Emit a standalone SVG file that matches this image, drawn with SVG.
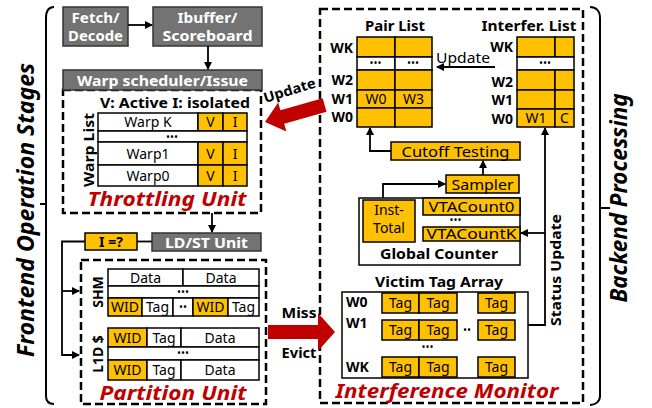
<svg xmlns="http://www.w3.org/2000/svg" width="652" height="408" viewBox="0 0 652 408">
  <style>
    text { font-family: "Noto Sans", "Open Sans", sans-serif; fill: #000; }
    .gray { fill: #737373; stroke: #333; stroke-width: 1.5; }
    .yel { fill: #FFC000; stroke: #000; stroke-width: 1.5; }
    .wht { fill: #fff; stroke: #000; stroke-width: 1.5; }
    .dash { fill: none; stroke: #000; stroke-width: 2.5; stroke-dasharray: 8 4; }
    .line { fill: none; stroke: #000; stroke-width: 1.8; }
    .brace { fill: none; stroke: #000; stroke-width: 2; }
    .wt { fill: #fff; font-weight: bold; font-size: 14px; text-anchor: middle; }
    .c { font-size: 14px; text-anchor: middle; }
    .b { font-weight: bold; font-size: 14px; }
    .bc { font-weight: bold; font-size: 14px; text-anchor: middle; }
    .dots { font-size: 8px; font-weight: bold; text-anchor: middle; letter-spacing: 1px; }
    .red { fill: #C00000; font-weight: bold; font-style: italic; font-size: 20px; text-anchor: middle; }
    .side { font-weight: bold; font-style: italic; font-size: 23px; text-anchor: middle; }
    .rarrow { fill: #C00000; }
  </style>
  <defs>
    <marker id="ah" markerWidth="8" markerHeight="8" refX="7" refY="4" orient="auto" markerUnits="userSpaceOnUse">
      <path d="M0,0 L8,4 L0,8 Z" fill="#000"/>
    </marker>
  </defs>

  <!-- side braces and stage labels -->
  <g id="frontend-brace">
    <path class="brace" d="M54,7 C48,7 46,11 46,18 V396 C46,401 48,404 54,404"/>
    <path class="brace" d="M46,204 H40"/>
    <text class="side" transform="translate(34,210) rotate(-90)" textLength="294" lengthAdjust="spacingAndGlyphs">Frontend Operation Stages</text>
  </g>
  <g id="backend-brace">
    <path class="brace" d="M590,7 C596,7 600,11 600,18 V396 C600,401 596,405 590,405"/>
    <path class="brace" d="M600,208 H610"/>
    <text class="side" transform="translate(627,198) rotate(-90)" textLength="209" lengthAdjust="spacingAndGlyphs">Backend Processing</text>
  </g>

  <!-- front-end pipeline -->
  <g id="fetch-decode">
    <rect class="gray" x="63" y="7" width="65" height="39"/>
    <text class="wt" x="95.5" y="23" textLength="48" lengthAdjust="spacingAndGlyphs">Fetch/</text>
    <text class="wt" x="95.5" y="41" textLength="55" lengthAdjust="spacingAndGlyphs">Decode</text>
  </g>
  <g id="ibuffer">
    <rect class="gray" x="153" y="7" width="109" height="39"/>
    <text class="wt" x="207.5" y="23" textLength="60" lengthAdjust="spacingAndGlyphs">Ibuffer/</text>
    <text class="wt" x="207.5" y="41" textLength="90" lengthAdjust="spacingAndGlyphs">Scoreboard</text>
  </g>

  <!-- throttling unit -->
  <g id="throttling-unit">
    <rect class="dash" x="63" y="90" width="198" height="123"/>
    <text class="bc" x="175" y="108" textLength="150" lengthAdjust="spacingAndGlyphs">V: Active I: isolated</text>
    <text class="b" transform="translate(94,150) rotate(-90)" text-anchor="middle" textLength="74" lengthAdjust="spacingAndGlyphs">Warp List</text>
    <rect class="wht" x="98" y="113" width="100" height="18"/>
    <rect class="yel" x="198" y="113" width="25" height="18"/>
    <rect class="yel" x="223" y="113" width="24" height="18"/>
    <rect class="wht" x="98" y="131" width="149" height="11"/>
    <rect class="wht" x="98" y="142" width="100" height="23"/>
    <rect class="yel" x="198" y="142" width="25" height="23"/>
    <rect class="yel" x="223" y="142" width="24" height="23"/>
    <rect class="wht" x="98" y="165" width="100" height="21"/>
    <rect class="yel" x="198" y="165" width="25" height="21"/>
    <rect class="yel" x="223" y="165" width="24" height="21"/>
    <text class="c" x="148" y="127">Warp K</text>
    <text class="c" x="210.5" y="127">V</text>
    <text class="c" x="235" y="127">I</text>
    <text class="dots" x="172.5" y="140">•••</text>
    <text class="c" x="148" y="159">Warp1</text>
    <text class="c" x="210.5" y="159">V</text>
    <text class="c" x="235" y="159">I</text>
    <text class="c" x="148" y="181">Warp0</text>
    <text class="c" x="210.5" y="181">V</text>
    <text class="c" x="235" y="181">I</text>
    <text class="red" x="167" y="206" textLength="159" lengthAdjust="spacingAndGlyphs">Throttling Unit</text>
  </g>
  <g id="warp-scheduler">
    <rect class="gray" x="63" y="70" width="199" height="20"/>
    <text class="wt" x="162.5" y="86" textLength="171" lengthAdjust="spacingAndGlyphs">Warp scheduler/Issue</text>
  </g>

  <!-- memory stage -->
  <g id="isolation-check">
    <rect class="yel" x="85" y="233" width="52" height="17"/>
    <text class="bc" x="111" y="246.5">I =?</text>
  </g>
  <g id="ldst-unit">
    <rect class="gray" x="152" y="233" width="109" height="18"/>
    <text class="wt" x="206.5" y="247.5" textLength="83" lengthAdjust="spacingAndGlyphs">LD/ST Unit</text>
  </g>

  <g id="partition-unit">
    <rect class="dash" x="81" y="260" width="185" height="144"/>
    <text class="b" transform="translate(103,292) rotate(-90)" text-anchor="middle">SHM</text>
    <text class="b" transform="translate(103,354) rotate(-90)" text-anchor="middle">L1D $</text>
    <!-- shared memory -->
    <rect class="wht" x="108" y="269" width="75" height="17"/>
    <rect class="wht" x="183" y="269" width="76" height="17"/>
    <rect class="wht" x="108" y="286" width="151" height="12"/>
    <rect class="yel" x="108" y="298" width="34" height="18"/>
    <rect class="wht" x="142" y="298" width="31" height="18"/>
    <rect class="wht" x="173" y="298" width="20" height="18"/>
    <rect class="yel" x="193" y="298" width="35" height="18"/>
    <rect class="wht" x="228" y="298" width="31" height="18"/>
    <text class="c" x="145.5" y="282.5">Data</text>
    <text class="c" x="221" y="282.5">Data</text>
    <text class="dots" x="183.5" y="294.5">•••</text>
    <text class="c" x="125" y="312">WID</text>
    <text class="c" x="157.5" y="312">Tag</text>
    <text class="dots" x="183.5" y="310">••</text>
    <text class="c" x="210.5" y="312">WID</text>
    <text class="c" x="243.5" y="312">Tag</text>
    <!-- L1 data cache -->
    <rect class="yel" x="108" y="328" width="39" height="19"/>
    <rect class="wht" x="147" y="328" width="34" height="19"/>
    <rect class="wht" x="181" y="328" width="78" height="19"/>
    <rect class="wht" x="108" y="347" width="151" height="13"/>
    <rect class="yel" x="108" y="360" width="39" height="20"/>
    <rect class="wht" x="147" y="360" width="34" height="20"/>
    <rect class="wht" x="181" y="360" width="78" height="20"/>
    <text class="c" x="127.5" y="342.5">WID</text>
    <text class="c" x="164" y="342.5">Tag</text>
    <text class="c" x="220" y="342.5">Data</text>
    <text class="dots" x="183.5" y="356">•••</text>
    <text class="c" x="127.5" y="374.5">WID</text>
    <text class="c" x="164" y="374.5">Tag</text>
    <text class="c" x="220" y="374.5">Data</text>
    <text class="red" x="173" y="400" textLength="147" lengthAdjust="spacingAndGlyphs">Partition Unit</text>
  </g>

  <!-- back-end: interference monitor -->
  <g id="interference-monitor">
    <rect class="dash" x="320" y="9" width="263" height="394"/>
    <text class="red" x="447" y="398" textLength="223" lengthAdjust="spacingAndGlyphs">Interference Monitor</text>
  </g>

  <g id="pair-list">
    <text class="bc" x="395" y="31" textLength="60" lengthAdjust="spacingAndGlyphs">Pair List</text>
    <rect class="yel" x="357" y="37" width="38" height="20"/>
    <rect class="yel" x="395" y="37" width="37" height="20"/>
    <rect class="wht" x="357" y="57" width="38" height="13"/>
    <rect class="wht" x="395" y="57" width="37" height="13"/>
    <rect class="yel" x="357" y="70" width="38" height="20"/>
    <rect class="yel" x="395" y="70" width="37" height="20"/>
    <rect class="yel" x="357" y="90" width="38" height="18"/>
    <rect class="yel" x="395" y="90" width="37" height="18"/>
    <rect class="yel" x="357" y="108" width="38" height="19"/>
    <rect class="yel" x="395" y="108" width="37" height="19"/>
    <text class="dots" x="376" y="66">•••</text>
    <text class="dots" x="413.5" y="66">•••</text>
    <text class="c" x="376" y="104">W0</text>
    <text class="c" x="413.5" y="104">W3</text>
    <text class="b" x="353" y="53" text-anchor="end">WK</text>
    <text class="b" x="353" y="85" text-anchor="end">W2</text>
    <text class="b" x="353" y="104" text-anchor="end">W1</text>
    <text class="b" x="353" y="122" text-anchor="end">W0</text>
  </g>

  <g id="interfer-list">
    <text class="bc" x="529" y="31" textLength="95" lengthAdjust="spacingAndGlyphs">Interfer. List</text>
    <rect class="yel" x="517" y="37" width="38" height="20"/>
    <rect class="yel" x="555" y="37" width="19" height="20"/>
    <rect class="wht" x="517" y="57" width="57" height="13"/>
    <rect class="yel" x="517" y="70" width="38" height="20"/>
    <rect class="yel" x="555" y="70" width="19" height="20"/>
    <rect class="yel" x="517" y="90" width="38" height="19"/>
    <rect class="yel" x="555" y="90" width="19" height="19"/>
    <rect class="yel" x="517" y="109" width="38" height="18"/>
    <rect class="yel" x="555" y="109" width="19" height="18"/>
    <text class="dots" x="545.5" y="66">•••</text>
    <text class="c" x="536" y="123">W1</text>
    <text class="c" x="564.5" y="123">C</text>
    <text class="b" x="513" y="52" text-anchor="end">WK</text>
    <text class="b" x="513" y="87" text-anchor="end">W2</text>
    <text class="b" x="513" y="105" text-anchor="end">W1</text>
    <text class="b" x="513" y="124" text-anchor="end">W0</text>
  </g>

  <g id="cutoff-testing">
    <rect class="yel" x="391" y="142" width="129" height="18"/>
    <text class="c" x="455.5" y="156.5" textLength="108" lengthAdjust="spacingAndGlyphs">Cutoff Testing</text>
  </g>
  <g id="sampler">
    <rect class="yel" x="446" y="175" width="73" height="18"/>
    <text class="c" x="482.5" y="189.5" textLength="62" lengthAdjust="spacingAndGlyphs">Sampler</text>
  </g>

  <g id="global-counter">
    <rect class="wht" x="359" y="198" width="161" height="67"/>
    <rect class="yel" x="363" y="200" width="52" height="42"/>
    <text class="c" x="389" y="215">Inst-</text>
    <text class="c" x="389" y="233">Total</text>
    <rect class="yel" x="423" y="198" width="97" height="17"/>
    <text class="c" x="471.5" y="211.5" textLength="86" lengthAdjust="spacingAndGlyphs">VTACount0</text>
    <text class="dots" x="456" y="223">•••</text>
    <rect class="yel" x="423" y="227" width="97" height="14"/>
    <text class="c" x="471.5" y="239" textLength="90" lengthAdjust="spacingAndGlyphs">VTACountK</text>
    <text class="bc" x="439" y="259" textLength="118" lengthAdjust="spacingAndGlyphs">Global Counter</text>
  </g>

  <g id="victim-tag-array">
    <text class="bc" x="439" y="287" textLength="128" lengthAdjust="spacingAndGlyphs">Victim Tag Array</text>
    <rect class="wht" x="342" y="292" width="186" height="86"/>
    <text class="b" x="346" y="307">W0</text>
    <text class="b" x="346" y="328">W1</text>
    <text class="b" x="346" y="372">WK</text>
    <rect class="yel" x="382" y="293" width="37" height="20"/>
    <rect class="yel" x="419" y="293" width="38" height="20"/>
    <rect class="yel" x="478" y="293" width="37" height="20"/>
    <rect class="yel" x="382" y="320" width="37" height="20"/>
    <rect class="yel" x="419" y="320" width="38" height="20"/>
    <rect class="yel" x="478" y="320" width="37" height="20"/>
    <rect class="yel" x="382" y="357" width="37" height="20"/>
    <rect class="yel" x="419" y="357" width="38" height="20"/>
    <rect class="yel" x="478" y="357" width="37" height="20"/>
    <text class="c" x="400.5" y="308">Tag</text>
    <text class="c" x="438" y="308">Tag</text>
    <text class="c" x="496.5" y="308">Tag</text>
    <text class="c" x="400.5" y="335">Tag</text>
    <text class="c" x="438" y="335">Tag</text>
    <text class="c" x="496.5" y="335">Tag</text>
    <text class="c" x="400.5" y="372">Tag</text>
    <text class="c" x="438" y="372">Tag</text>
    <text class="c" x="496.5" y="372">Tag</text>
    <text class="dots" x="467.5" y="333">••</text>
    <text class="dots" x="428" y="350">•••</text>
  </g>

  <!-- connectors -->
  <g id="connectors">
    <path class="line" d="M128,25 H152" marker-end="url(#ah)"/>
    <path class="line" d="M208,46 V69" marker-end="url(#ah)"/>
    <path class="line" d="M212,213 V232" marker-end="url(#ah)"/>
    <path class="line" d="M137,241.5 H152"/>
    <path class="line" d="M85,241.5 H62 V355 H79" marker-end="url(#ah)"/>
    <path class="line" d="M62,291 H79" marker-end="url(#ah)"/>
    <path class="line" d="M495,67 H437" marker-end="url(#ah)"/>
    <text class="c" x="463" y="63" textLength="54" lengthAdjust="spacingAndGlyphs">Update</text>
    <path class="line" d="M391,151 H370 V128" marker-end="url(#ah)"/>
    <path class="line" d="M483,175 V161" marker-end="url(#ah)"/>
    <path class="line" d="M383,198 V184 H445" marker-end="url(#ah)"/>
    <path class="line" d="M528,325 H545 V128" marker-end="url(#ah)"/>
    <path class="line" d="M545,233 H521" marker-end="url(#ah)"/>
    <text class="b" transform="translate(561,270) rotate(-90)" text-anchor="middle" textLength="112" lengthAdjust="spacingAndGlyphs">Status Update</text>

    <!-- wide red arrows -->
    <path class="rarrow" d="M268,325 H318 V313 L335,332 L318,351 V339 H268 Z"/>
    <text class="b" x="299" y="318" text-anchor="middle" textLength="35" lengthAdjust="spacingAndGlyphs">Miss</text>
    <text class="b" x="299" y="358" text-anchor="middle" textLength="35" lengthAdjust="spacingAndGlyphs">Evict</text>
    <path class="rarrow" transform="translate(265,122) rotate(-16)" d="M0,0 L18,-15 V-7 H62 V7 H18 V15 Z"/>
    <text class="b" transform="translate(291,95) rotate(-17)" text-anchor="middle" textLength="54" lengthAdjust="spacingAndGlyphs">Update</text>
  </g>
</svg>
